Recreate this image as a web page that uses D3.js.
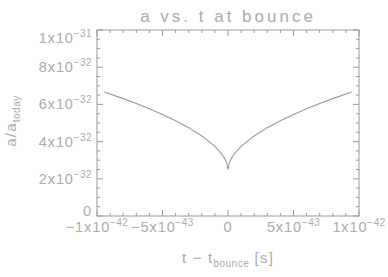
<!DOCTYPE html>
<html>
<head>
<meta charset="utf-8">
<script src="https://cdn.jsdelivr.net/npm/d3@7"></script>
<style>
  html, body { margin: 0; padding: 0; background: #fff; }
  svg text { font-family: "Liberation Sans", "DejaVu Sans", sans-serif; fill: #ababab; }
</style>
</head>
<body>
<svg id="chart" width="388" height="277"></svg>
<script>
// t - t_bounce (s) and a/a_today
const tValues = [-0.944e-42, -0.8e-42, -0.7e-42, -0.6e-42, -0.5e-42, -0.4e-42, -0.3e-42, -0.2e-42,
  -0.15e-42, -0.1e-42, -0.05e-42, -0.025e-42, -0.01e-42, 0,
  0.01e-42, 0.025e-42, 0.05e-42, 0.1e-42, 0.15e-42, 0.2e-42, 0.3e-42, 0.4e-42, 0.5e-42,
  0.6e-42, 0.7e-42, 0.8e-42, 0.944e-42];
const aValues = [6.67e-32, 6.31e-32, 6.05e-32, 5.77e-32, 5.46e-32, 5.12e-32, 4.75e-32, 4.30e-32,
  4.04e-32, 3.74e-32, 3.35e-32, 3.09e-32, 2.86e-32, 2.50e-32,
  2.86e-32, 3.09e-32, 3.35e-32, 3.74e-32, 4.04e-32, 4.30e-32, 4.75e-32, 5.12e-32, 5.46e-32,
  5.77e-32, 6.05e-32, 6.31e-32, 6.67e-32];

const xTicks = [-1e-42, -5e-43, 0, 5e-43, 1e-42];
const xTickLabels = [["−1x10", "−42"], ["−5x10", "−43"], ["0", ""], ["5x10", "−43"], ["1x10", "−42"]];
const yTicks = [0, 2e-32, 4e-32, 6e-32, 8e-32, 1e-31];
const yTickLabels = [["0", ""], ["2x10", "−32"], ["4x10", "−32"], ["6x10", "−32"], ["8x10", "−32"], ["1x10", "−31"]];

const svg = d3.select('#chart');
const margin = { top: 30, right: 29, bottom: 61, left: 97 };
const W = 388, H = 277;
const innerW = W - margin.left - margin.right;
const innerH = H - margin.top - margin.bottom;
const axisColor = '#9a9a9a';

const x = d3.scaleLinear().domain([-1e-42, 1e-42]).range([0, innerW]);
const y = d3.scaleLinear().domain([0, 1e-31]).range([innerH, 0]);

const g = svg.append('g').attr('transform', `translate(${margin.left},${margin.top})`);

// frame
g.append('rect')
  .attr('x', 0).attr('y', 0).attr('width', innerW).attr('height', innerH)
  .attr('fill', 'none').attr('stroke', axisColor).attr('stroke-width', 1);

// minor + major ticks on all four sides
const xMinor = d3.range(-10, 11).map(i => i * 1e-43);
const yMinor = d3.range(0, 21).map(i => i * 5e-33);
const tickG = g.append('g').attr('stroke', axisColor).attr('stroke-width', 1);

xMinor.forEach((v, i) => {
  const len = i % 5 === 0 ? 6 : 3;
  tickG.append('line').attr('x1', x(v)).attr('x2', x(v)).attr('y1', innerH).attr('y2', innerH - len);
  tickG.append('line').attr('x1', x(v)).attr('x2', x(v)).attr('y1', 0).attr('y2', len);
});
yMinor.forEach((v, i) => {
  const len = i % 4 === 0 ? 6 : 3;
  tickG.append('line').attr('y1', y(v)).attr('y2', y(v)).attr('x1', 0).attr('x2', len);
  tickG.append('line').attr('y1', y(v)).attr('y2', y(v)).attr('x1', innerW).attr('x2', innerW - len);
});

// tick labels
function supLabel(sel, parts, anchor) {
  const t = sel.append('text').attr('text-anchor', anchor)
    .attr('font-size', 14.5).attr('letter-spacing', 0.9);
  t.append('tspan').text(parts[0]);
  if (parts[1]) {
    t.append('tspan').attr('font-size', 10).attr('dy', -6).attr('letter-spacing', 0.4).text(parts[1]);
  }
  return t;
}

xTicks.forEach((v, i) => {
  supLabel(g.append('g').attr('transform', `translate(${x(v)},${innerH + 16})`), xTickLabels[i], 'middle');
});
yTicks.forEach((v, i) => {
  // keep labels inside the frame's vertical extent
  const by = Math.min(innerH, Math.max(y(v) + 5, 13));
  supLabel(g.append('g').attr('transform', `translate(-5,${by})`), yTickLabels[i], 'end');
});

// curve
const line = d3.line().x(d => x(d[0])).y(d => y(d[1]));
g.append('path')
  .datum(tValues.map((t, i) => [t, aValues[i]]))
  .attr('d', line)
  .attr('fill', 'none')
  .attr('stroke', '#9a9a9a')
  .attr('stroke-width', 1.1);

// title
svg.append('text')
  .attr('x', margin.left + innerW / 2).attr('y', 22)
  .attr('text-anchor', 'middle').attr('font-size', 17).attr('letter-spacing', 3)
  .text('a vs. t at bounce');

// x axis title
const xt = svg.append('text')
  .attr('x', margin.left + innerW / 2).attr('y', 263)
  .attr('text-anchor', 'middle').attr('font-size', 15).attr('letter-spacing', 1.2);
xt.append('tspan').text('t  −  t');
xt.append('tspan').attr('font-size', 10).attr('dy', 4).attr('letter-spacing', 0.5).text('bounce');
xt.append('tspan').attr('dy', -4).text(' [s]');

// y axis title
const yt = svg.append('text')
  .attr('transform', `translate(16,${margin.top + innerH / 2 - 2}) rotate(-90)`)
  .attr('text-anchor', 'middle').attr('font-size', 15).attr('letter-spacing', 1.2);
yt.append('tspan').text('a/a');
yt.append('tspan').attr('font-size', 10).attr('dy', 4).attr('letter-spacing', 0.5).text('today');
</script>
</body>
</html>
